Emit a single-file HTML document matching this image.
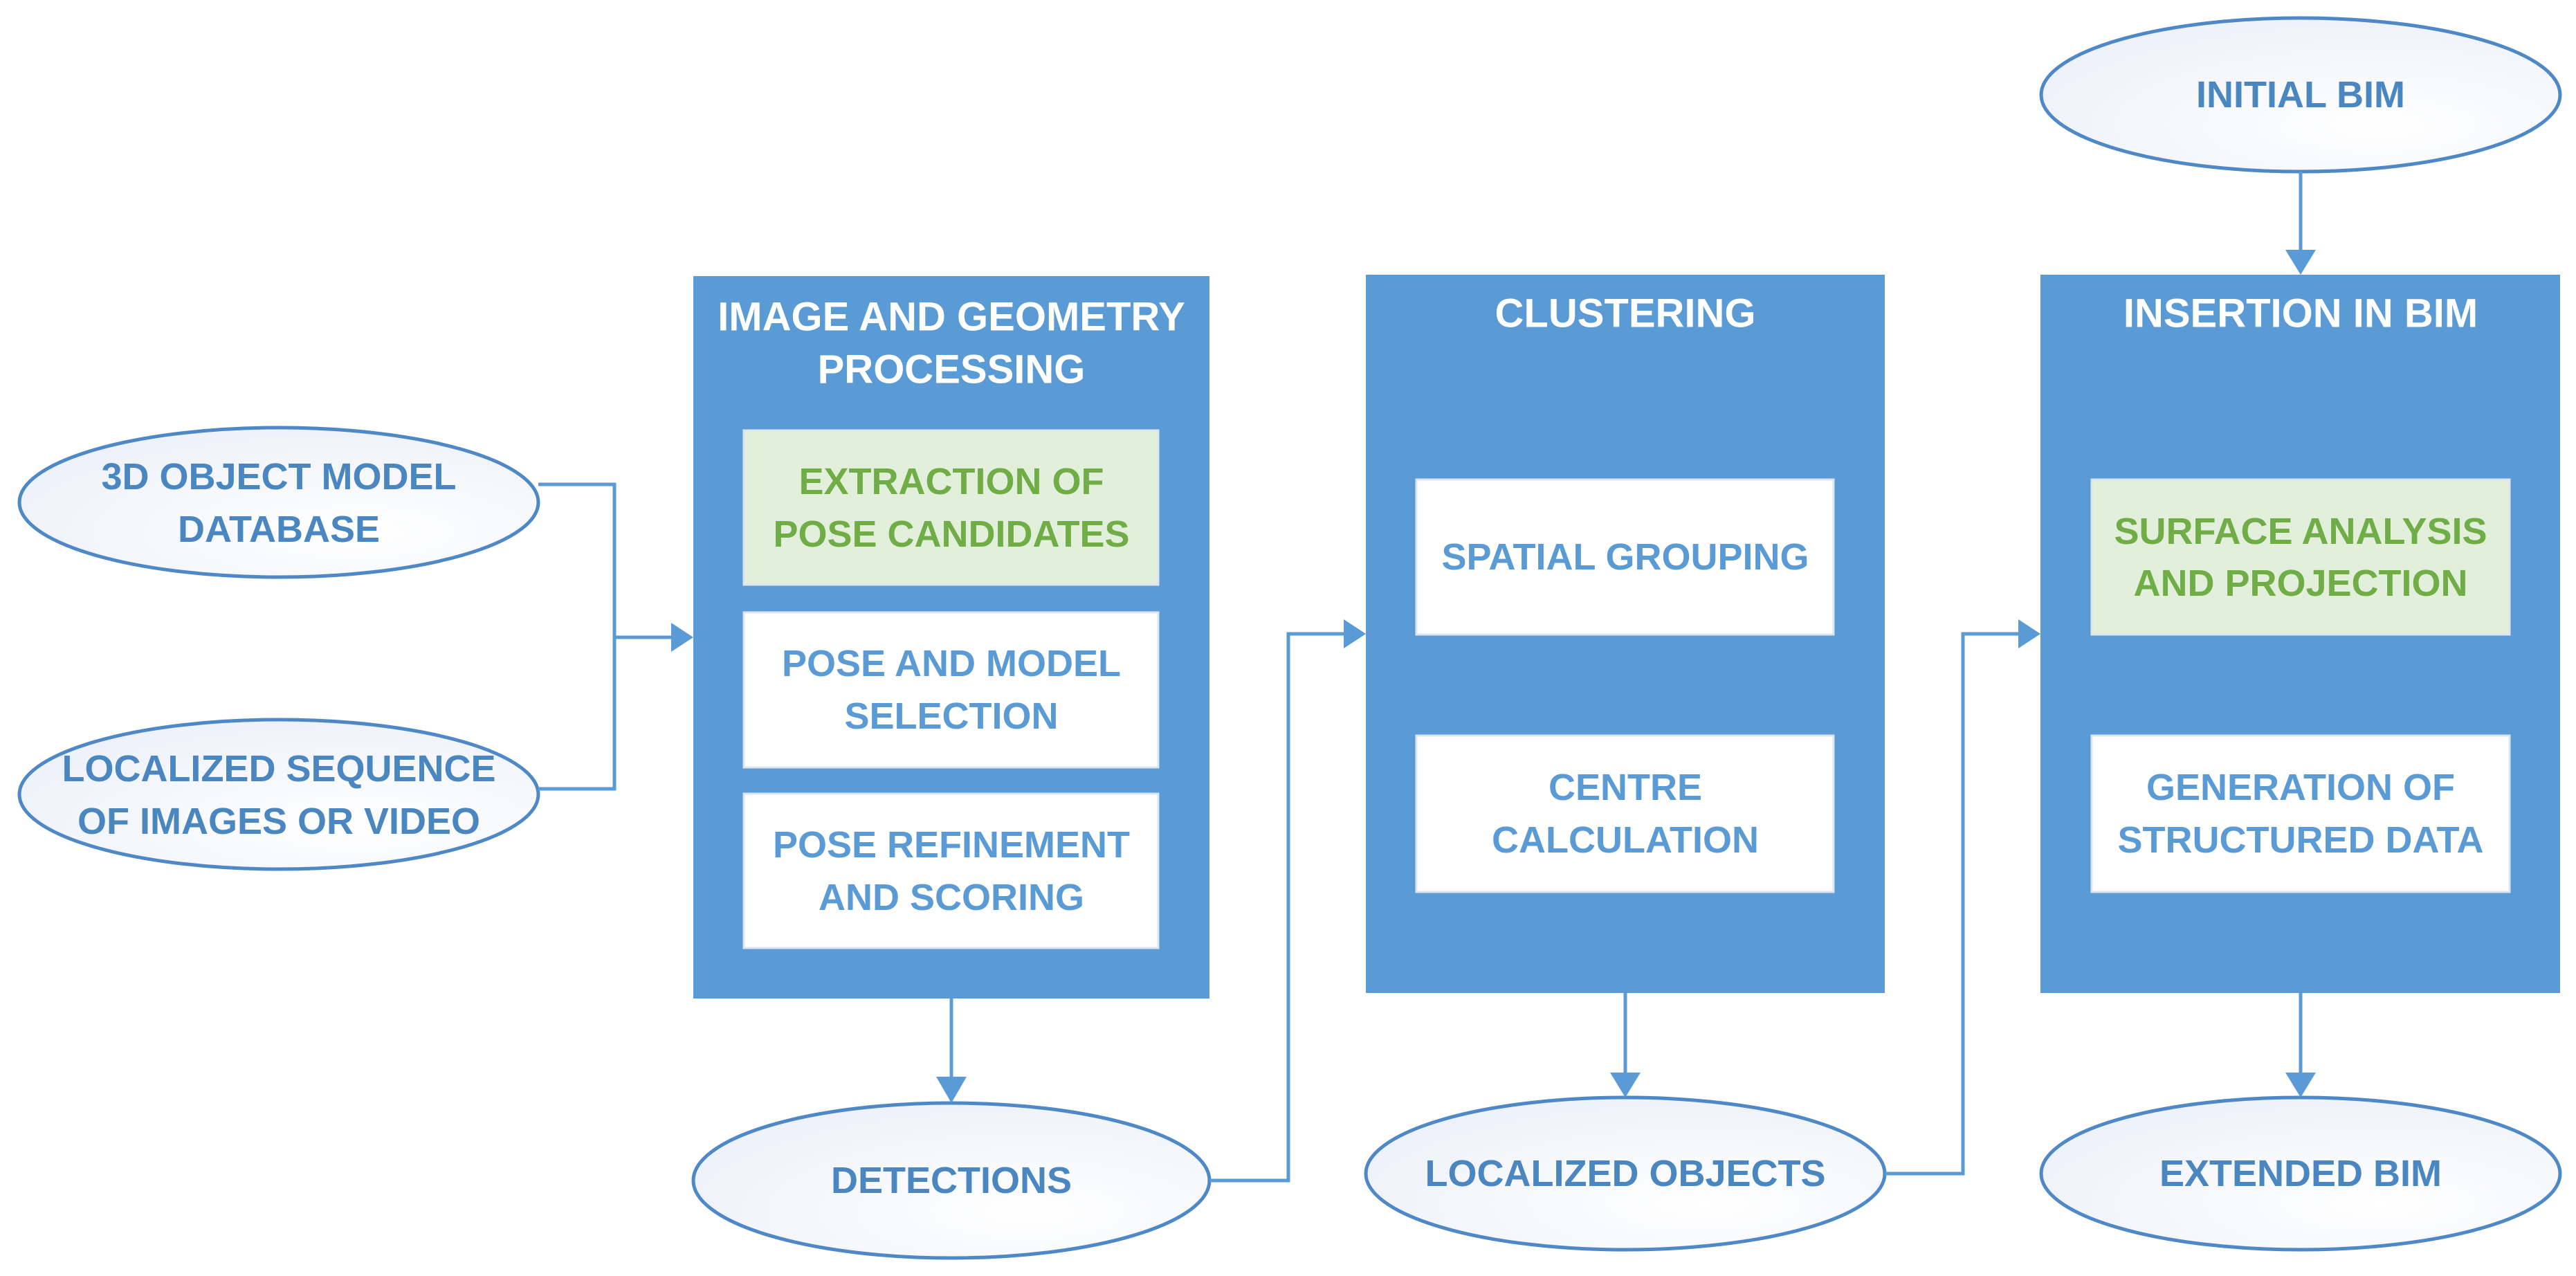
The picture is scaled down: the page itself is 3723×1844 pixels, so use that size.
<!DOCTYPE html>
<html><head><meta charset="utf-8"><style>
html,body{margin:0;padding:0;background:#fff;}
svg{display:block;}
text{font-family:"Liberation Sans",sans-serif;font-weight:bold;text-anchor:middle;dominant-baseline:central;}
.t{fill:#fff;font-size:58px;}
.b{fill:#5B9BD5;font-size:54px;}
.g{fill:#70AD47;font-size:54px;}
.e{fill:#4A86C0;font-size:54px;}
</style></head><body>
<svg width="3723" height="1844" viewBox="0 0 3723 1844" xmlns="http://www.w3.org/2000/svg">
<defs>
<radialGradient id="eg" cx="0.65" cy="0.7" r="0.8">
<stop offset="0" stop-color="#ffffff"/><stop offset="1" stop-color="#ECF0F9"/>
</radialGradient>
<marker id="ar" markerWidth="10" markerHeight="10" refX="9" refY="5" orient="auto" markerUnits="userSpaceOnUse" viewBox="0 0 10 10">
</marker>
</defs>
<g fill="url(#eg)" stroke="#4F88C6" stroke-width="5">
<ellipse cx="403" cy="726" rx="375" ry="108"/>
<ellipse cx="403" cy="1148" rx="375" ry="108"/>
<ellipse cx="1375" cy="1706" rx="373" ry="112"/>
<ellipse cx="2349" cy="1696" rx="375" ry="110"/>
<ellipse cx="3325" cy="1696" rx="375" ry="110"/>
<ellipse cx="3325" cy="137" rx="375" ry="111"/>
</g>
<g fill="none" stroke="#5B9BD5" stroke-width="5">
<polyline points="778,700 888,700 888,1140 778,1140"/>
<line x1="888" y1="921" x2="975" y2="921"/>
<line x1="1375" y1="1443" x2="1375" y2="1560"/>
<polyline points="1748,1706 1862,1706 1862,916 1948,916"/>
<line x1="2349" y1="1435" x2="2349" y2="1556"/>
<polyline points="2724,1696 2837,1696 2837,916 2922,916"/>
<line x1="3325" y1="1435" x2="3325" y2="1556"/>
<line x1="3325" y1="248" x2="3325" y2="368"/>
</g>
<g fill="#5B9BD5">
<polygon points="1002,921 970,900 970,942"/>
<polygon points="1974,916 1942,895 1942,937"/>
<polygon points="2949,916 2917,895 2917,937"/>
<polygon points="1375,1594 1353,1556 1397,1556"/>
<polygon points="2349,1586 2327,1550 2371,1550"/>
<polygon points="3325,1586 3303,1550 3347,1550"/>
<polygon points="3325,397 3303,361 3347,361"/>
</g>
<g fill="#5B9BD5">
<rect x="1002" y="399" width="746" height="1044"/>
<rect x="1974" y="397" width="750" height="1038"/>
<rect x="2949" y="397" width="751" height="1038"/>
</g>
<g stroke="#DCE6F2" stroke-width="3">
<rect x="1075" y="622" width="599" height="223" fill="#E2EFDA"/>
<rect x="1075" y="885" width="599" height="224" fill="#fff"/>
<rect x="1075" y="1147" width="599" height="223" fill="#fff"/>
<rect x="2047" y="693" width="603" height="224" fill="#fff"/>
<rect x="2047" y="1063" width="603" height="226" fill="#fff"/>
<rect x="3023" y="693" width="604" height="224" fill="#E2EFDA"/>
<rect x="3023" y="1063" width="604" height="226" fill="#fff"/>
</g>
<text class="t" x="1375" y="458">IMAGE AND GEOMETRY</text>
<text class="t" x="1375" y="534">PROCESSING</text>
<text class="t" x="2349" y="453">CLUSTERING</text>
<text class="t" x="3325" y="453">INSERTION IN BIM</text>
<text class="g" x="1375" y="696">EXTRACTION OF</text>
<text class="g" x="1375" y="772">POSE CANDIDATES</text>
<text class="b" x="1375" y="959">POSE AND MODEL</text>
<text class="b" x="1375" y="1035">SELECTION</text>
<text class="b" x="1375" y="1221">POSE REFINEMENT</text>
<text class="b" x="1375" y="1297">AND SCORING</text>
<text class="b" x="2349" y="805">SPATIAL GROUPING</text>
<text class="b" x="2349" y="1138">CENTRE</text>
<text class="b" x="2349" y="1214">CALCULATION</text>
<text class="g" x="3325" y="768">SURFACE ANALYSIS</text>
<text class="g" x="3325" y="843">AND PROJECTION</text>
<text class="b" x="3325" y="1138">GENERATION OF</text>
<text class="b" x="3325" y="1214">STRUCTURED DATA</text>
<text class="e" x="403" y="689">3D OBJECT MODEL</text>
<text class="e" x="403" y="765">DATABASE</text>
<text class="e" x="403" y="1111">LOCALIZED SEQUENCE</text>
<text class="e" x="403" y="1187">OF IMAGES OR VIDEO</text>
<text class="e" x="1375" y="1706">DETECTIONS</text>
<text class="e" x="2349" y="1696">LOCALIZED OBJECTS</text>
<text class="e" x="3325" y="1696">EXTENDED BIM</text>
<text class="e" x="3325" y="137">INITIAL BIM</text>
</svg>
</body></html>
